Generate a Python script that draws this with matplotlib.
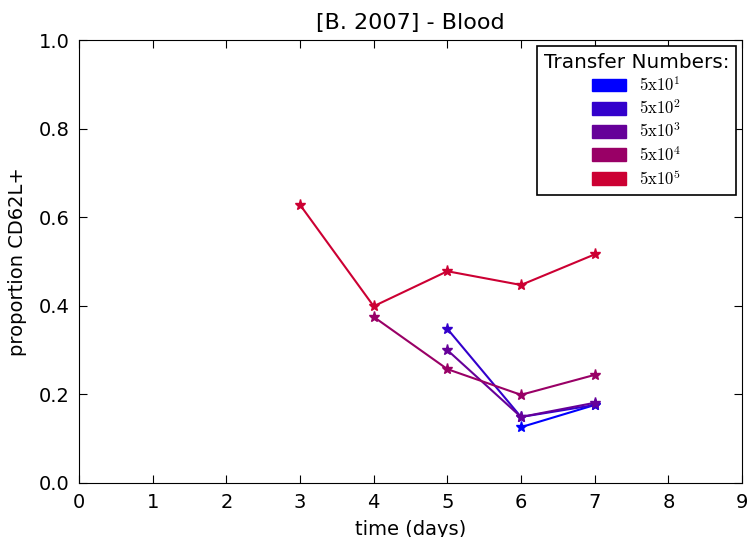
import matplotlib
matplotlib.use("Agg")
import matplotlib.pyplot as plt
import matplotlib.patches as mpatches

# data
labels = [r'$5\mathrm{x}10^{1}$', r'$5\mathrm{x}10^{2}$', r'$5\mathrm{x}10^{3}$',
          r'$5\mathrm{x}10^{4}$', r'$5\mathrm{x}10^{5}$']
colors = ['#0000ff', '#3300cc', '#660099', '#990066', '#cc0033']
days = [
    [6, 7],
    [5, 6, 7],
    [5, 6, 7],
    [4, 5, 6, 7],
    [3, 4, 5, 6, 7],
]
values = [
    [0.126, 0.176],
    [0.348, 0.149, 0.176],
    [0.300, 0.149, 0.181],
    [0.375, 0.257, 0.199, 0.244],
    [0.628, 0.399, 0.478, 0.447, 0.516],
]

plt.rcParams['mathtext.fontset'] = 'cm'
plt.rcParams['xtick.direction'] = 'in'
plt.rcParams['ytick.direction'] = 'in'
plt.rcParams['xtick.top'] = True
plt.rcParams['ytick.right'] = True
plt.rcParams['xtick.major.size'] = 6
plt.rcParams['ytick.major.size'] = 6

fig = plt.figure(figsize=(7.47, 5.37), dpi=100)
ax = fig.add_axes([0.1058, 0.1006, 0.8875, 0.8249])

for d, v, c in zip(days, values, colors):
    ax.plot(d, v, color=c, linewidth=1.5, marker='*', markersize=8,
            markeredgecolor=c, markerfacecolor=c)

ax.set_xlim(0, 9)
ax.set_ylim(0, 1.0)
ax.set_xticks(range(0, 10))
ax.set_yticks([0.0, 0.2, 0.4, 0.6, 0.8, 1.0])
ax.tick_params(labelsize=14, pad=7)
ax.set_xlabel('time (days)', fontsize=14, labelpad=6)
ax.set_ylabel('proportion CD62L+', fontsize=14, labelpad=8)
ax.set_title('[B. 2007] - Blood', fontsize=16, pad=8)

handles = [mpatches.Patch(color=c, label=l) for c, l in zip(colors, labels)]
leg = ax.legend(handles=handles, title='Transfer Numbers:', loc='upper right',
                fontsize=12, title_fontsize=14.4, fancybox=False, framealpha=1,
                edgecolor='black', borderaxespad=0.35, handlelength=2.05,
                handleheight=0.8, labelspacing=0.27)
leg.get_frame().set_linewidth(1.2)

fig.savefig('out.png', dpi=100)
